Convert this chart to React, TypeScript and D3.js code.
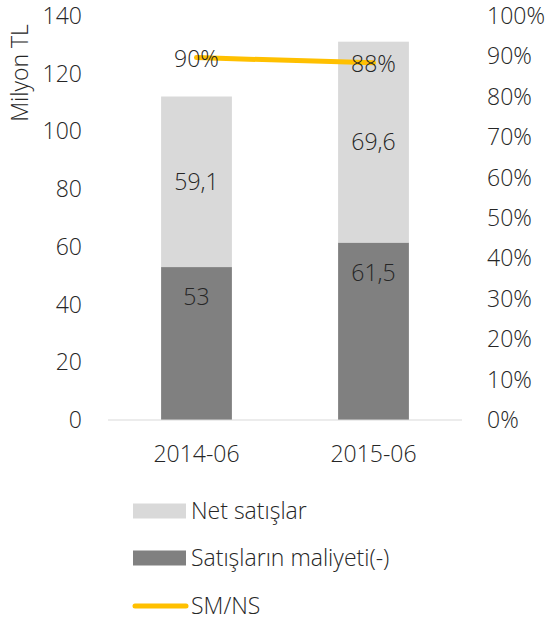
import React, { useRef, useEffect } from 'react';
import * as d3 from 'd3';

const categories = ['2014-06', '2015-06'];
const netSales = [59.1, 69.6];
const costOfSales = [53, 61.5];
const smNs = [0.897, 0.884];
const smNsLabels = ['90%', '88%'];
const netSalesLabels = ['59,1', '69,6'];
const costLabels = ['53', '61,5'];
const leftTicks = [0, 20, 40, 60, 80, 100, 120, 140];
const rightTicks = [0, 0.1, 0.2, 0.3, 0.4, 0.5, 0.6, 0.7, 0.8, 0.9, 1];

const App: React.FC = () => {
  const svgRef = useRef<SVGSVGElement | null>(null);

  useEffect(() => {
    if (!svgRef.current) return;
    const svg = d3.select(svgRef.current);
    svg.selectAll('*').remove();

    const width = 549;
    const height = 620;
    const font = "'Open Sans', sans-serif";
    const fontSize = 23;
    const textColor = '#262626';
    const colors = {
      net: '#D9D9D9',
      cost: '#808080',
      line: '#FFC000',
      axis: '#D9D9D9',
    };

    const plot = { left: 108, right: 462, top: 16, bottom: 420 };

    const x = d3.scaleBand<string>()
      .domain(categories)
      .range([plot.left, plot.right])
      .paddingInner(0.6)
      .paddingOuter(0.3);
    const y = d3.scaleLinear().domain([0, 140]).range([plot.bottom, plot.top]);
    const y2 = d3.scaleLinear().domain([0, 1]).range([plot.bottom, plot.top]);

    svg.attr('width', width).attr('height', height);
    const g = svg.append('g')
      .attr('font-family', font)
      .attr('font-weight', 300)
      .attr('font-size', fontSize)
      .attr('fill', textColor);

    const label = (px: number, py: number, txt: string, anchor = 'middle') =>
      g.append('text')
        .attr('x', px)
        .attr('y', py)
        .attr('dy', '0.35em')
        .attr('text-anchor', anchor)
        .text(txt);

    // Bars: cost at bottom, net sales stacked above
    categories.forEach((c, i) => {
      const x0 = x(c)!;
      g.append('rect')
        .attr('x', x0)
        .attr('y', y(costOfSales[i]))
        .attr('width', x.bandwidth())
        .attr('height', y(0) - y(costOfSales[i]))
        .attr('fill', colors.cost);
      g.append('rect')
        .attr('x', x0)
        .attr('y', y(costOfSales[i] + netSales[i]))
        .attr('width', x.bandwidth())
        .attr('height', y(costOfSales[i]) - y(costOfSales[i] + netSales[i]))
        .attr('fill', colors.net);

      const cx = x0 + x.bandwidth() / 2;
      // cost labels sit near the top of their segment in the original
      label(cx, y(costOfSales[i]) + 30, costLabels[i]);
      label(cx, y(costOfSales[i] + netSales[i] / 2), netSalesLabels[i]);
    });

    // Baseline
    g.append('line')
      .attr('x1', plot.left)
      .attr('x2', plot.right)
      .attr('y1', y(0))
      .attr('y2', y(0))
      .attr('stroke', colors.axis)
      .attr('stroke-width', 1);

    // SM/NS line
    const line = d3.line<number>()
      .x((_, i) => x(categories[i])! + x.bandwidth() / 2)
      .y(d => y2(d));
    g.append('path')
      .datum(smNs)
      .attr('d', line)
      .attr('fill', 'none')
      .attr('stroke', colors.line)
      .attr('stroke-width', 5)
      .attr('stroke-linecap', 'round');
    smNs.forEach((v, i) => {
      label(x(categories[i])! + x.bandwidth() / 2, y2(v) + 1, smNsLabels[i]);
    });

    // Left axis labels
    leftTicks.forEach(t => label(82, y(t), String(t), 'end'));

    // Right axis labels
    rightTicks.forEach(t => label(487, y2(t), d3.format('.0%')(t), 'start'));

    // Category labels
    categories.forEach(c => label(x(c)! + x.bandwidth() / 2, 454, c));

    // Axis title
    g.append('text')
      .attr('transform', 'translate(20,73) rotate(-90)')
      .attr('dy', '0.35em')
      .attr('text-anchor', 'middle')
      .text('Milyon TL');

    // Legend
    const legend = g.append('g');
    const items = [
      { label: 'Net satışlar', type: 'rect', color: colors.net, y: 511 },
      { label: 'Satışların maliyeti(-)', type: 'rect', color: colors.cost, y: 558 },
      { label: 'SM/NS', type: 'line', color: colors.line, y: 606 },
    ];
    items.forEach(it => {
      if (it.type === 'rect') {
        legend.append('rect')
          .attr('x', 133)
          .attr('y', it.y - 7.5)
          .attr('width', 53)
          .attr('height', 15)
          .attr('fill', it.color);
      } else {
        legend.append('line')
          .attr('x1', 135)
          .attr('x2', 186)
          .attr('y1', it.y)
          .attr('y2', it.y)
          .attr('stroke', it.color)
          .attr('stroke-width', 5)
          .attr('stroke-linecap', 'round');
      }
      legend.append('text')
        .attr('x', 191)
        .attr('y', it.y)
        .attr('dy', '0.35em')
        .text(it.label);
    });
  }, []);

  return (
    <svg
      ref={svgRef}
      style={{ display: 'block', position: 'absolute', left: 0, top: 0 }}
    ></svg>
  );
};

export default App;
